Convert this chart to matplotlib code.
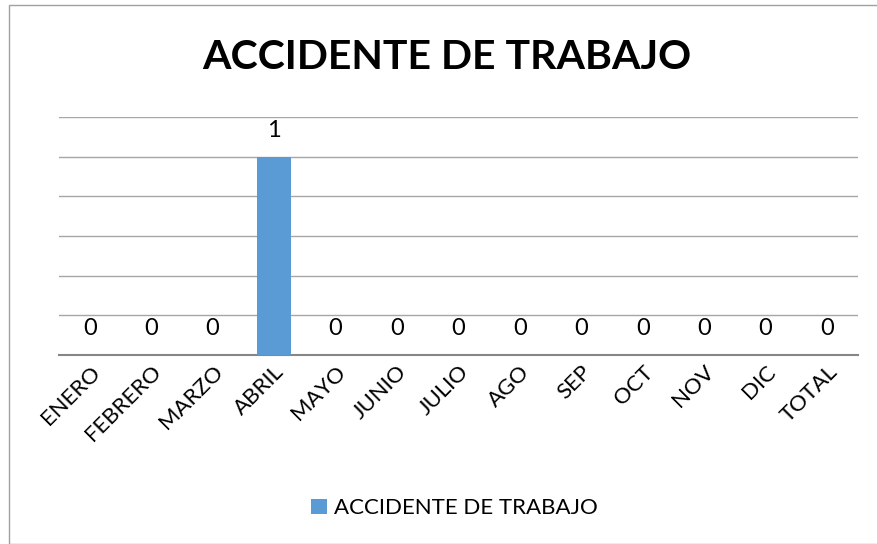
import matplotlib.pyplot as plt
from matplotlib.patches import Rectangle
import numpy as np

plt.rcParams['font.family'] = ['Lato', 'DejaVu Sans']

meses = ['ENERO', 'FEBRERO', 'MARZO', 'ABRIL', 'MAYO', 'JUNIO', 'JULIO',
         'AGO', 'SEP', 'OCT', 'NOV', 'DIC', 'TOTAL']
accidentes = [0, 0, 0, 1, 0, 0, 0, 0, 0, 0, 0, 0, 0]
serie = 'ACCIDENTE DE TRABAJO'

fig = plt.figure(figsize=(8.77, 5.44), dpi=100)
ax = fig.add_axes([0.0673, 0.3474, 0.9107, 0.4376])

x = np.arange(len(meses))
barras = ax.bar(x, accidentes, width=0.55, color='#5B9BD5', label=serie, zorder=3)

# etiquetas de valor encima de cada barra
for xi, v in zip(x, accidentes):
    ax.annotate(str(v), (xi, v), xytext=(0, 19), textcoords='offset points',
                ha='center', va='center', fontsize=17, color='black')

ax.set_xlim(-0.5, len(meses) - 0.5)
ax.set_ylim(0, 1.2)
ax.set_yticks(np.arange(0, 1.21, 0.2))
ax.yaxis.grid(True, color='#A6A6A6', linewidth=1, zorder=0)
ax.tick_params(axis='y', left=False, labelleft=False)
ax.tick_params(axis='x', length=0, pad=5)
ax.set_xticks(x)
ax.set_xticklabels(meses, rotation=45, ha='right', rotation_mode='anchor', fontsize=16)

for s in ['top', 'right', 'left']:
    ax.spines[s].set_visible(False)
ax.spines['bottom'].set_color('#868686')
ax.spines['bottom'].set_linewidth(1.5)

fig.text(0.51, 0.895, serie, ha='center', va='center', fontsize=29.5, fontweight='bold')

fig.legend(handles=[barras], labels=[serie], loc='center', bbox_to_anchor=(0.518, 0.066),
           frameon=False, fontsize=16, handlelength=0.7, handleheight=0.7, handletextpad=0.3)

# borde del grafico
fig.patches.append(Rectangle((0.0103, 0.0), 0.995, 0.991, transform=fig.transFigure,
                             fill=False, edgecolor='#A0A0A0', linewidth=1))

fig.savefig('out.png', dpi=100)
